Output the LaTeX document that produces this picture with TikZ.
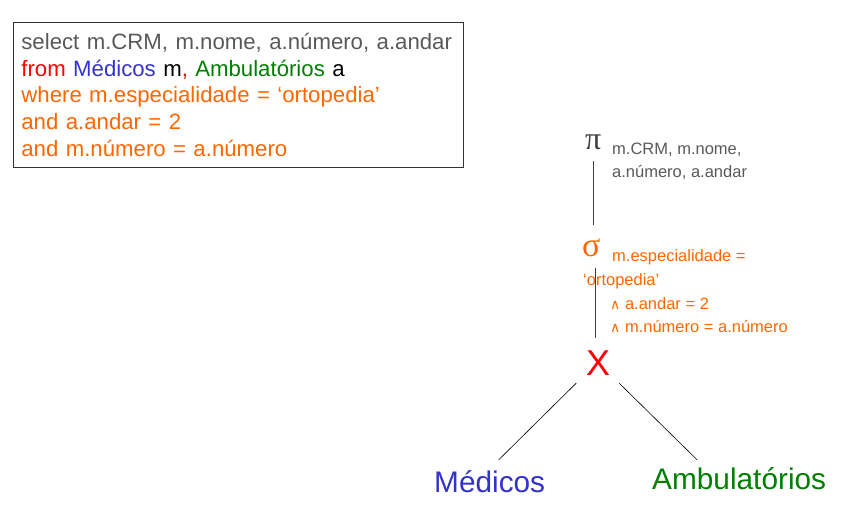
\documentclass[tikz,border=0pt]{standalone}
\usepackage{fontspec}
\setmainfont{Liberation Sans}
\newfontfamily\greekfont{Liberation Serif}
\newfontfamily\symfont{DejaVu Sans}
\definecolor{txtgray}{HTML}{595959}
\definecolor{sqlred}{HTML}{FF0000}
\definecolor{sqlblue}{HTML}{3333CC}
\definecolor{sqlgreen}{HTML}{008000}
\definecolor{sqlorange}{HTML}{FF6600}
\newcommand{\andsym}{{\symfont\fontsize{14}{14}\selectfont ∧}}
\tikzset{
  lbl/.style={anchor=base west, inner sep=0pt},
  edge/.style={line width=.8pt, draw=black!75}
}
\begin{document}
\begin{tikzpicture}[x=1pt,y=-1pt]
\useasboundingbox (0,0) rectangle (855,510);
% the query
\node[draw=black!80, line width=.8pt, anchor=north west, align=left,
  text width=434pt, minimum height=145pt, inner xsep=8pt, inner ysep=0pt,
  font=\fontsize{22.2}{26.9}\selectfont] (query) at (13,22)
  {\color{txtgray}select m.CRM, m.nome, a.número, a.andar\\
   \color{sqlred}from \color{sqlblue}Médicos \color{black}m\color{sqlred}, \color{sqlgreen}Ambulatórios \color{black}a\\
   \color{sqlorange}where m.especialidade = ‘ortopedia’\\
   \color{sqlorange}and a.andar = 2\\
   \color{sqlorange}and m.número = a.número};
% the tree
\node[lbl, text=black!75, font=\greekfont\fontsize{32}{32}\selectfont] (pi) at (585,150) {π};
\node[lbl, text=txtgray, font=\fontsize{16.5}{16.5}\selectfont] (pilabA) at (612,155) {m.CRM, m.nome,};
\node[lbl, text=txtgray, font=\fontsize{16.5}{16.5}\selectfont] (pilabB) at (612,178) {a.número, a.andar};
\node[lbl, text=sqlorange, font=\greekfont\fontsize{34}{34}\selectfont] (sigma) at (582,257) {σ};
\foreach \n/\x/\y/\t in {A/612/262/{m.especialidade =},B/583/286/{‘ortopedia’},
    C/610/310/{\andsym\ a.andar = 2},D/610/333/{\andsym\ m.número = a.número}}{
  \node[lbl, text=sqlorange, font=\fontsize{16.5}{16.5}\selectfont] (siglab\n) at (\x,\y) {\t};
}
\node[lbl, text=sqlred, font=\fontsize{36}{36}\selectfont] (cross) at (586,376) {X};
\node[lbl, text=sqlblue, font=\fontsize{29.8}{29.8}\selectfont] (med) at (434,493) {Médicos};
\node[lbl, text=sqlgreen, font=\fontsize{29.8}{29.8}\selectfont] (amb) at (652,490) {Ambulatórios};
% connectors
\draw[edge] ([yshift=-10pt]pi.south) -- ([yshift=14pt]pi.south |- sigma.north);
\draw[edge] ([xshift=4pt,yshift=-10pt]sigma.south) -- ([xshift=4pt,yshift=13pt]sigma.south |- cross.north);
\draw[line width=.6pt] ([shift={(-22pt,-7pt)}]cross.south) -- ([shift={(9pt,11pt)}]med.north);
\draw[line width=.6pt] ([shift={(21pt,-7pt)}]cross.south) -- ([shift={(-42pt,8pt)}]amb.north);
\end{tikzpicture}
\end{document}
